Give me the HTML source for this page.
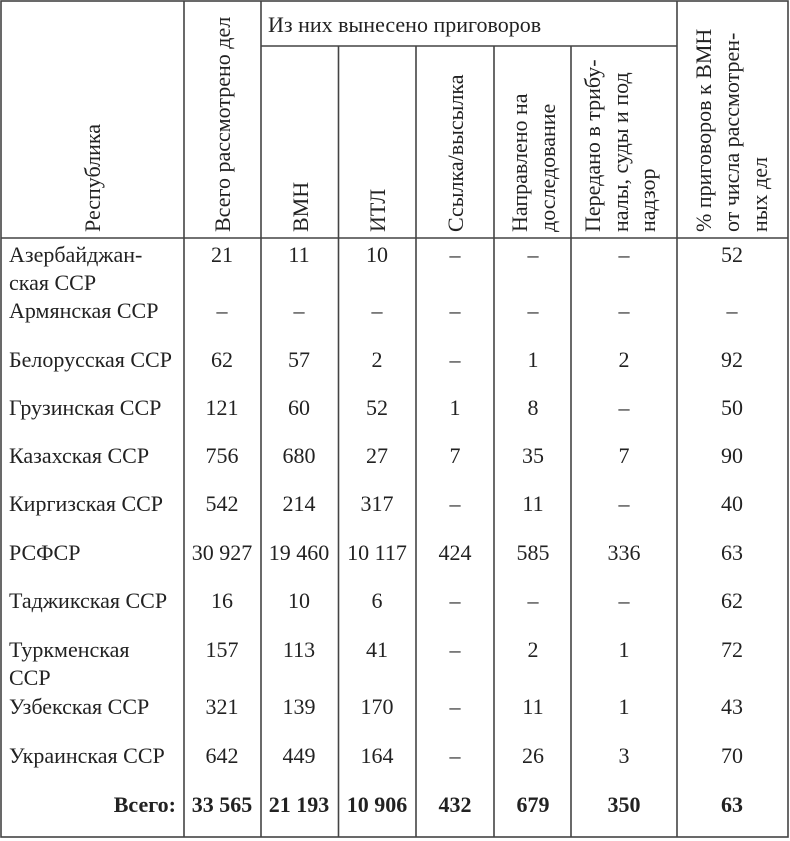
<!DOCTYPE html>
<html><head><meta charset="utf-8"><style>
html,body{margin:0;padding:0;background:#fff;}
svg{display:block;}
svg text{font-family:"Times New Roman","Liberation Serif","DejaVu Serif",serif;font-size:22px;fill:#222;}
.b{font-weight:bold;}
</style></head><body>
<svg width="790" height="841" viewBox="0 0 790 841" xmlns="http://www.w3.org/2000/svg">
<g stroke="#444" stroke-width="1.6" fill="none">
<rect x="1" y="1" width="787" height="836"/>
<line x1="184" y1="1" x2="184" y2="837"/>
<line x1="261" y1="1" x2="261" y2="837"/>
<line x1="338.5" y1="46" x2="338.5" y2="837"/>
<line x1="416" y1="46" x2="416" y2="837"/>
<line x1="494" y1="46" x2="494" y2="837"/>
<line x1="571" y1="46" x2="571" y2="837"/>
<line x1="677" y1="1" x2="677" y2="837"/>
<line x1="261" y1="46" x2="677" y2="46"/>
<line x1="1" y1="238" x2="788" y2="238"/>
</g>
<g>
<text x="268" y="32">Из них вынесено приговоров</text>
<text transform="translate(100,232) rotate(-90)">Республика</text>
<text transform="translate(230,232) rotate(-90)">Всего рассмотрено дел</text>
<text transform="translate(308,232) rotate(-90)">ВМН</text>
<text transform="translate(385,232) rotate(-90)">ИТЛ</text>
<text transform="translate(463,232) rotate(-90)">Ссылка/высылка</text>
<text transform="translate(527,232) rotate(-90)">Направлено на</text>
<text transform="translate(555,232) rotate(-90)">доследование</text>
<text transform="translate(600,232) rotate(-90)">Передано в трибу-</text>
<text transform="translate(628,232) rotate(-90)">налы, суды и под</text>
<text transform="translate(655,232) rotate(-90)">надзор</text>
<text transform="translate(711,232) rotate(-90)">% приговоров к ВМН</text>
<text transform="translate(739,232) rotate(-90)">от числа  рассмотрен-</text>
<text transform="translate(767,232) rotate(-90)">ных дел</text>
<text x="9" y="262">Азербайджан-</text><text x="9" y="290">ская ССР</text>
<text x="9" y="318">Армянская ССР</text>
<text x="9" y="367">Белорусская ССР</text>
<text x="9" y="415">Грузинская ССР</text>
<text x="9" y="463">Казахская ССР</text>
<text x="9" y="511">Киргизская ССР</text>
<text x="9" y="560">РСФСР</text>
<text x="9" y="608">Таджикская ССР</text>
<text x="9" y="657">Туркменская</text><text x="9" y="685">ССР</text>
<text x="9" y="714">Узбекская ССР</text>
<text x="9" y="763">Украинская ССР</text>
<text x="176" y="812" class="b" text-anchor="end">Всего:</text>
</g>
<g text-anchor="middle">
<text x="222" y="262">21</text><text x="299" y="262">11</text><text x="377" y="262">10</text><text x="455" y="262">–</text><text x="533" y="262">–</text><text x="624" y="262">–</text><text x="732" y="262">52</text>
<text x="222" y="318">–</text><text x="299" y="318">–</text><text x="377" y="318">–</text><text x="455" y="318">–</text><text x="533" y="318">–</text><text x="624" y="318">–</text><text x="732" y="318">–</text>
<text x="222" y="367">62</text><text x="299" y="367">57</text><text x="377" y="367">2</text><text x="455" y="367">–</text><text x="533" y="367">1</text><text x="624" y="367">2</text><text x="732" y="367">92</text>
<text x="222" y="415">121</text><text x="299" y="415">60</text><text x="377" y="415">52</text><text x="455" y="415">1</text><text x="533" y="415">8</text><text x="624" y="415">–</text><text x="732" y="415">50</text>
<text x="222" y="463">756</text><text x="299" y="463">680</text><text x="377" y="463">27</text><text x="455" y="463">7</text><text x="533" y="463">35</text><text x="624" y="463">7</text><text x="732" y="463">90</text>
<text x="222" y="511">542</text><text x="299" y="511">214</text><text x="377" y="511">317</text><text x="455" y="511">–</text><text x="533" y="511">11</text><text x="624" y="511">–</text><text x="732" y="511">40</text>
<text x="222" y="560">30 927</text><text x="299" y="560">19 460</text><text x="377" y="560">10 117</text><text x="455" y="560">424</text><text x="533" y="560">585</text><text x="624" y="560">336</text><text x="732" y="560">63</text>
<text x="222" y="608">16</text><text x="299" y="608">10</text><text x="377" y="608">6</text><text x="455" y="608">–</text><text x="533" y="608">–</text><text x="624" y="608">–</text><text x="732" y="608">62</text>
<text x="222" y="657">157</text><text x="299" y="657">113</text><text x="377" y="657">41</text><text x="455" y="657">–</text><text x="533" y="657">2</text><text x="624" y="657">1</text><text x="732" y="657">72</text>
<text x="222" y="714">321</text><text x="299" y="714">139</text><text x="377" y="714">170</text><text x="455" y="714">–</text><text x="533" y="714">11</text><text x="624" y="714">1</text><text x="732" y="714">43</text>
<text x="222" y="763">642</text><text x="299" y="763">449</text><text x="377" y="763">164</text><text x="455" y="763">–</text><text x="533" y="763">26</text><text x="624" y="763">3</text><text x="732" y="763">70</text>
<text x="222" y="812" class="b" font-size="21">33 565</text><text x="299" y="812" class="b" font-size="21">21 193</text><text x="377" y="812" class="b" font-size="21">10 906</text><text x="455" y="812" class="b">432</text><text x="533" y="812" class="b">679</text><text x="624" y="812" class="b">350</text><text x="732" y="812" class="b">63</text>
</g>
</svg>
</body></html>
